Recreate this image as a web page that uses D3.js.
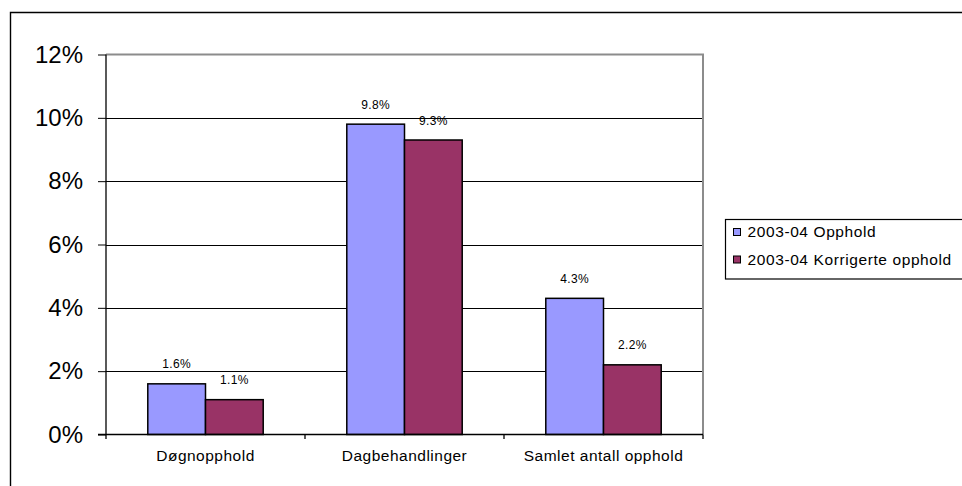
<!DOCTYPE html>
<html>
<head>
<meta charset="utf-8">
<script src="https://cdn.jsdelivr.net/npm/d3@7/dist/d3.min.js"></script>
<style>
  html, body { margin: 0; padding: 0; background: #fff; }
  svg { display: block; font-family: Arial, "Liberation Sans", Helvetica, sans-serif; }
</style>
</head>
<body>
<svg id="chart" width="962" height="486"></svg>
<script>
// Share of stays by type, 2003-04
const categories = ["Døgnopphold", "Dagbehandlinger", "Samlet antall opphold"];
const seriesNames = ["2003-04 Opphold", "2003-04 Korrigerte opphold"];
const opphold = [1.6, 9.8, 4.3];
const korrigerte = [1.1, 9.3, 2.2];
const yTicks = [0, 2, 4, 6, 8, 10, 12];
const colors = ["#9999FF", "#993366"];

const series = [opphold, korrigerte];

const svg = d3.select("#chart");

// Outer frame (runs off the right and bottom edges)
svg.append("path")
  .attr("d", "M10.5,486 V12.5 H962")
  .attr("fill", "none")
  .attr("stroke", "#000")
  .attr("stroke-width", 1.4);

const plot = { left: 106, right: 703, top: 54.5, bottom: 434.5 };

const y = d3.scaleLinear().domain([0, 12]).range([plot.bottom, plot.top]);
const x = d3.scaleBand().domain(categories).range([plot.left, plot.right]).paddingInner(0).paddingOuter(0);
const xs = d3.scaleBand().domain(d3.range(series.length)).range([0, x.bandwidth()])
  .paddingOuter(0.21 / 0.58 * 1).paddingInner(0);
// bars take 58% of each category width, centred
xs.range([x.bandwidth() * 0.21, x.bandwidth() * 0.79]).paddingOuter(0);

// Gridlines
svg.append("g")
  .selectAll("line")
  .data(yTicks.filter(t => t > 0 && t < 12))
  .join("line")
  .attr("x1", plot.left).attr("x2", plot.right)
  .attr("y1", d => Math.round(y(d)) + 0.5).attr("y2", d => Math.round(y(d)) + 0.5)
  .attr("stroke", "#000").attr("stroke-width", 1);

// Plot-area border: grey top and right
svg.append("path")
  .attr("d", `M${plot.left},${plot.top} H${plot.right} V${plot.bottom}`)
  .attr("fill", "none")
  .attr("stroke", "#8c8c8c")
  .attr("stroke-width", 2);

// Bars
const groups = svg.append("g").selectAll("g")
  .data(categories)
  .join("g")
  .attr("transform", d => `translate(${x(d)},0)`);

groups.selectAll("rect")
  .data((d, i) => series.map((s, k) => ({ k, v: s[i] })))
  .join("rect")
  .attr("x", d => xs(d.k))
  .attr("width", xs.bandwidth())
  .attr("y", d => y(d.v))
  .attr("height", d => plot.bottom - y(d.v))
  .attr("fill", d => colors[d.k])
  .attr("stroke", "#000")
  .attr("stroke-width", 1.5);

// Value labels
groups.selectAll("text")
  .data((d, i) => series.map((s, k) => ({ k, v: s[i] })))
  .join("text")
  .attr("x", d => xs(d.k) + xs.bandwidth() / 2)
  .attr("y", d => y(d.v) - 15.5)
  .attr("text-anchor", "middle")
  .attr("font-size", 12)
  .attr("letter-spacing", 0.4)
  .attr("fill", "#000")
  .text(d => d.v.toFixed(1) + "%");

// Y axis
const yAxis = d3.axisLeft(y).tickValues(yTicks).tickSize(8).tickPadding(15)
  .tickFormat(d => d + "%");
const ya = svg.append("g").attr("transform", `translate(${plot.left},0)`).call(yAxis);
ya.select(".domain").attr("stroke", "#000").attr("stroke-width", 1.3)
  .attr("d", `M0,${plot.top}V${plot.bottom}`);
ya.selectAll(".tick line").attr("stroke", "#000");
ya.selectAll(".tick text")
  .attr("font-size", 24)
  .attr("font-family", "Arial, 'Liberation Sans', sans-serif")
  .attr("fill", "#000");

// X axis
const xAxis = d3.axisBottom(x).tickSize(0).tickPadding(0);
const xa = svg.append("g").attr("transform", `translate(0,${plot.bottom})`).call(xAxis);
xa.select(".domain").attr("stroke", "#000").attr("stroke-width", 1.3)
  .attr("d", `M${plot.left - 8},0H${plot.right}`);
xa.selectAll(".tick text")
  .attr("y", 26.5)
  .attr("dy", 0)
  .attr("font-size", 15.5)
  .attr("letter-spacing", 0.5)
  .attr("font-family", "Arial, 'Liberation Sans', sans-serif")
  .attr("fill", "#000");
// category separators
svg.append("g").selectAll("line")
  .data(d3.range(categories.length + 1))
  .join("line")
  .attr("x1", i => plot.left + i * x.step()).attr("x2", i => plot.left + i * x.step())
  .attr("y1", plot.bottom).attr("y2", plot.bottom + 4.5)
  .attr("stroke", "#000").attr("stroke-width", 1.3);

// Legend
const legend = svg.append("g");
legend.append("rect")
  .attr("x", 725.5).attr("y", 219.5)
  .attr("width", 240).attr("height", 59.5)
  .attr("fill", "#fff").attr("stroke", "#000").attr("stroke-width", 1.2);
const items = legend.selectAll("g.item")
  .data(seriesNames)
  .join("g")
  .attr("class", "item")
  .attr("transform", (d, i) => `translate(733,${232 + i * 27.5})`);
items.append("rect")
  .attr("x", 0.5).attr("y", -3.5)
  .attr("width", 7).attr("height", 7)
  .attr("fill", (d, i) => colors[i])
  .attr("stroke", "#000").attr("stroke-width", 1);
items.append("text")
  .attr("x", 14.5).attr("y", 5)
  .attr("font-size", 15.5)
  .attr("letter-spacing", 0.6)
  .attr("fill", "#000")
  .text(d => d);
</script>
</body>
</html>
